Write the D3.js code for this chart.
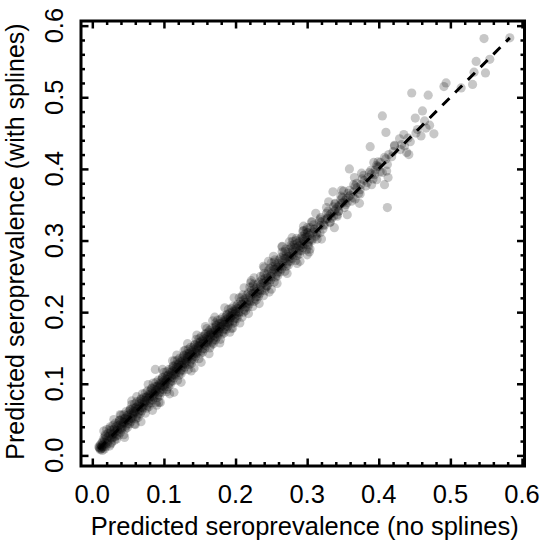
<!DOCTYPE html>
<html>
<head>
<meta charset="utf-8">
<script src="https://cdn.jsdelivr.net/npm/d3@7"></script>
<style>
  body { margin: 0; background: #fff; }
  svg { display: block; }
  text { font-family: "Liberation Sans", Arial, Helvetica, sans-serif; fill: #000; }
</style>
</head>
<body>
<div id="container"></div>
<script>
// predicted seroprevalence, [no splines, with splines], in thousandths
const lowBand = [
  [10,11],[11,14],[12,9],[9,12],[13,13],[11,8],[14,12],[10,10],[12,16],[13,10],
  [15,15],[16,24],[17,9],[14,19],[18,27],[16,12],[19,17],[14,7],[17,22],[15,18],
  [20,24],[21,16],[22,31],[19,12],[23,27],[21,21],[24,13],[20,36],[22,19],[18,29],
  [25,25],[26,35],[27,18],[24,37],[28,30],[26,16],[29,25],[25,31],[27,24],[25,40],
  [30,30],[31,38],[32,26],[29,42],[33,34],[31,21],[34,28],[30,36],[28,29],[32,45],
  [35,35],[36,45],[37,28],[34,41],[38,49],[36,33],[39,37],[34,23],[37,42],[35,38],
  [40,44],[41,36],[42,51],[39,32],[43,47],[41,41],[44,29],[40,56],[42,39],[38,49],
  [45,46],[46,52],[47,41],[44,57],[48,49],[46,37],[49,44],[45,51],[43,45],[47,61],
  [50,50],[51,61],[52,44],[49,56],[53,64],[51,48],[54,52],[49,39],[52,58],[50,53],
  [55,59],[56,51],[57,66],[54,47],[58,62],[56,56],[59,44],[55,71],[57,54],[53,64],
  [60,61],[61,67],[62,55],[59,72],[63,64],[61,51],[64,58],[60,66],[58,59],[62,75],
  [65,65],[66,75],[67,58],[64,70],[68,78],[66,62],[69,67],[64,53],[67,72],[65,68],
  [70,74],[71,66],[72,81],[69,62],[73,77],[71,71],[74,59],[70,86],[72,69],[68,79],
  [75,76],[76,82],[77,70],[74,87],[78,79],[76,66],[79,73],[75,81],[73,74],[77,90],
  [80,81],[81,90],[82,73],[79,85],[83,93],[81,77],[84,82],[79,68],[82,87],[80,83],
  [85,89],[86,81],[87,96],[84,77],[88,92],[86,86],[89,74],[85,101],[87,84],[83,94],
  [90,91],[91,97],[92,85],[89,102],[93,94],[91,81],[94,88],[90,96],[88,89],[92,105],
  [95,96],[96,105],[97,88],[94,100],[98,108],[96,92],[99,97],[94,83],[97,102],[95,98],
  [100,104],[101,96],[102,111],[99,92],[103,107],[101,101],[104,89],[100,116],[102,99],[98,109],
  [105,106],[106,112],[107,100],[104,117],[108,109],[106,96],[109,103],[105,111],[103,104],[107,120]
];

const midBand = [
  [110,111],[111,121],[112,104],[109,116],[113,124],[111,108],[114,113],[109,99],[112,118],[110,114],
  [115,120],[116,112],[117,127],[114,108],[118,123],[116,117],[119,105],[115,132],[117,115],[113,125],
  [120,123],[121,129],[122,116],[119,133],[123,125],[121,112],[124,119],[120,127],[118,120],[122,136],
  [125,126],[126,136],[127,119],[124,131],[128,139],[126,123],[129,128],[124,114],[127,133],[125,129],
  [130,135],[131,127],[132,142],[129,123],[133,138],[131,132],[134,120],[130,147],[132,130],[128,140],
  [135,138],[136,144],[137,131],[134,148],[138,140],[136,127],[139,134],[135,142],[133,135],[137,151],
  [140,141],[141,151],[142,134],[139,146],[143,154],[141,138],[144,143],[139,129],[142,148],[140,144],
  [145,150],[146,142],[147,157],[144,138],[148,153],[146,147],[149,135],[145,162],[147,145],[143,155],
  [150,153],[151,159],[152,146],[149,163],[153,155],[151,142],[154,149],[150,157],[148,150],[152,166],
  [155,156],[156,166],[157,149],[154,161],[158,169],[156,153],[159,158],[154,144],[157,163],[155,159],
  [160,165],[161,157],[162,172],[159,153],[163,168],[161,162],[164,150],[160,177],[162,160],[158,170],
  [165,165],[166,171],[167,158],[164,175],[168,167],[166,154],[169,161],[165,169],[163,162],[167,178],
  [170,168],[171,178],[172,161],[169,173],[173,181],[171,165],[174,170],[169,156],[172,175],[170,171],
  [175,177],[176,169],[177,184],[174,165],[178,180],[176,174],[179,162],[175,189],[177,172],[173,182],
  [180,180],[181,186],[182,173],[179,190],[183,182],[181,169],[184,176],[180,184],[178,177],[182,193],
  [185,183],[186,193],[187,176],[184,188],[188,196],[186,180],[189,185],[184,171],[187,190],[185,186],
  [190,192],[191,184],[192,199],[189,180],[193,195],[191,189],[194,177],[190,204],[192,187],[188,197],
  [195,195],[196,201],[197,188],[194,205],[198,197],[196,184],[199,191],[195,199],[193,192],[197,208],
  [200,198],[201,208],[202,191],[199,203],[203,211],[201,195],[204,200],[199,186],[202,205],[200,201],
  [205,208],[206,200],[207,215],[204,196],[208,211],[206,205],[209,193],[205,220],
  [210,211],[211,217],[212,204],[209,221],[213,213],[211,200],[214,207],[210,224],
  [215,214],[216,224],[217,207],[214,219],[218,227],[216,211],[219,216],[214,202],
  [220,223],[221,215],[222,230],[219,211],[223,226],[221,220],[224,208],[220,235],
  [225,226],[226,232],[227,219],[224,236],[228,228],[226,215],[229,222],[225,239],
  [230,229],[231,239],[232,222],[229,234],[233,242],[231,226],[234,231],[229,217],
  [235,238],[236,230],[237,245],[234,226],[238,241],[236,235],[239,223],[235,250],
  [240,241],[241,247],[242,234],[239,251],[243,243],[241,230],[244,237],[240,254],
  [245,248],[246,258],[247,241],[244,253],[248,261],[246,245],[249,250],[244,236],
  [250,257],[251,249],[252,264],[249,245],[253,260],[251,254],[254,242],[250,269],
  [255,260],[256,266],[257,253],[254,270],[258,262],[256,249],[259,256],[255,273],
  [260,263],[261,273],[262,256],[259,268],[263,276],[261,260],[264,265],[259,251],
  [265,272],[266,264],[267,279],[264,260],[268,275],[266,269],[269,257],[265,284],
  [270,275],[271,281],[272,268],[269,285],[273,277],[271,264],[274,271],[270,288],
  [275,278],[276,288],[277,271],[274,283],[278,291],[276,275],[279,280],[274,266],
  [280,287],[281,279],[282,294],[279,275],[283,290],[281,284],[284,272],[280,299],
  [285,290],[286,296],[287,283],[284,300],[288,292],[286,279],[289,286],[285,303],
  [290,293],[291,303],[292,286],[289,298],[293,306],[291,290],[294,295],[289,281],
  [295,302],[296,294],[297,309],[294,290],[298,305],[296,299],[299,287],[295,314],
  [300,305],[301,311],[302,298],[299,315],[303,307],[301,294],[304,301],[300,318]
];

const upperBand = [
  [305,310],[307,300],[304,318],[309,312],[310,316],[312,306],[309,322],[313,311],
  [315,318],[317,327],[314,309],[318,321],[320,326],[322,316],[319,332],[323,322],
  [325,329],[327,338],[324,321],[328,331],[330,334],[332,325],[329,341],[333,337],
  [335,339],[337,347],[334,331],[338,341],[340,344],[342,336],[339,351],[343,347],
  [345,349],[347,357],[344,341],[348,352],[350,353],[352,346],[349,360],[353,356],
  [355,359],[357,366],[354,350],[358,361],[360,363],[362,355],[359,370],
  [365,368],[367,376],[364,360],[370,374],[372,366],[369,380],
  [375,378],[377,386],[374,371],[380,384],[382,376],[379,391],
  [385,388],[387,395],[384,381],[390,393],[392,386],[389,398],
  [395,398],[397,405],[394,392],[400,403],[402,396],[399,410],
  [410,414],[412,406],[420,424],[418,417],[432,434],[441,443],[452,450],
  [293,302],[307,302],[302,292],[300,311],[318,311],[311,316],[307,326],[318,330],
  [332,326],[328,330],[337,334],[344,341],[327,346],[339,352],[356,353],[367,358],
  [374,365],[347,362],[336,368],[351,369],[365,378],[390,378],[408,378],[397,385],
  [413,388],[376,394],[405,395],[411,397],[398,403],[393,409],[402,409],[408,416],
  [414,420],[442,420],[430,427],[422,432],[436,432],[429,442],[444,438],[459,446],
  [477,449],[435,448],[410,451],[454,455],[471,461],[466,457],[464,467],[451,471],
  [461,481],[469,503],[491,515],[494,520],[515,513],[531,518],[533,535],[549,534],
  [536,550],[555,553],[583,583],[422,433],[439,423],[306,326],[294,313],[265,291],
  [277,293],[239,264],[246,271],[290,271],[304,288],[314,302],[342,334]
];

// lighter scatter around the band edges
const bandEdge = [
  [30,50],[45,25],[55,76],[68,47],[78,99],[84,63],[98,120],[108,86],[118,140],[124,102],
  [133,156],[138,118],[146,168],[152,130],[158,180],[163,142],[171,193],[178,157],[185,206],
  [192,172],[198,220],[206,185],[212,234],[218,198],[226,248],[233,212],[240,262],[247,228],
  [253,278],[258,240],[265,292],[272,254],[279,304],[286,268],[295,320],[303,284],[312,338],
  [320,302],[330,354],[338,318],[348,370],[356,336],[366,388],[373,352],
  [62,82],[90,70],[112,132],[142,122],[168,188],[196,178],[222,244],[250,232],[275,298],[300,280]
];

const outliers = [
  [16,34],[39,57],[60,43],[95,74],[104,92],[88,120],[114,88],[93,74],[128,146],
  [172,185],[221,241],[359,400],[388,431],[405,474],[446,506],[547,582],[412,346]
];

const axisTicks = [0, 0.1, 0.2, 0.3, 0.4, 0.5, 0.6];
const minorTicks = [0.02, 0.04, 0.06, 0.08, 0.12, 0.14, 0.16, 0.18, 0.22, 0.24, 0.26, 0.28,
                    0.32, 0.34, 0.36, 0.38, 0.42, 0.44, 0.46, 0.48, 0.52, 0.54, 0.56, 0.58];
const refLine = [0.009, 0.583];
const xTitle = "Predicted seroprevalence (no splines)";
const yTitle = "Predicted seroprevalence (with splines)";

const width = 545, height = 542;
const plot = {left: 81, right: 524.5, top: 21, bottom: 466};
const fontSize = 25.5;

const points = lowBand.concat(midBand, upperBand, bandEdge, outliers)
    .map(d => ({x: d[0] / 1000, y: d[1] / 1000}));

const xScale = d3.scaleLinear([-0.0158, 0.6035], [plot.left, plot.right]);
const yScale = d3.scaleLinear([-0.0148, 0.6065], [plot.bottom, plot.top]);

const svg = d3.select("#container").append("svg")
    .attr("width", width)
    .attr("height", height);

svg.append("rect")
    .attr("width", width).attr("height", height)
    .attr("fill", "#fff");

svg.append("clipPath").attr("id", "clip")
  .append("rect")
    .attr("x", plot.left).attr("y", plot.top)
    .attr("width", plot.right - plot.left)
    .attr("height", plot.bottom - plot.top);

const body = svg.append("g").attr("clip-path", "url(#clip)");

body.selectAll("circle")
    .data(points)
    .enter().append("circle")
      .attr("cx", d => xScale(d.x))
      .attr("cy", d => yScale(d.y))
      .attr("r", 4.6)
      .attr("fill", "#000")
      .attr("fill-opacity", 0.22);

body.append("line")
    .attr("x1", xScale(refLine[0])).attr("y1", yScale(refLine[0]))
    .attr("x2", xScale(refLine[1])).attr("y2", yScale(refLine[1]))
    .attr("stroke", "#000")
    .attr("stroke-width", 3)
    .attr("stroke-dasharray", "10,8");

// inward ticks on all four sides
function tickAxes(values, len) {
    const sides = [
        [d3.axisBottom(xScale), `translate(0,${plot.bottom})`],
        [d3.axisTop(xScale), `translate(0,${plot.top})`],
        [d3.axisLeft(yScale), `translate(${plot.left},0)`],
        [d3.axisRight(yScale), `translate(${plot.right},0)`]
    ];
    sides.forEach(function (s) {
        const g = svg.append("g")
            .attr("transform", s[1])
            .call(s[0].tickValues(values).tickSize(-len).tickFormat(""));
        g.select(".domain").remove();
        g.selectAll("line").attr("stroke", "#000").attr("stroke-width", 2.5);
    });
}
tickAxes(minorTicks, 4);
tickAxes(axisTicks, 7.5);

svg.append("rect")
    .attr("x", plot.left).attr("y", plot.top)
    .attr("width", plot.right - plot.left)
    .attr("height", plot.bottom - plot.top)
    .attr("fill", "none")
    .attr("stroke", "#000")
    .attr("stroke-width", 3);

// tick labels
svg.append("g").selectAll("text")
    .data(axisTicks)
    .enter().append("text")
      .attr("x", d => xScale(d))
      .attr("y", 503)
      .attr("text-anchor", "middle")
      .style("font-size", fontSize + "px")
      .text(d => d.toFixed(1));

svg.append("g").selectAll("text")
    .data(axisTicks)
    .enter().append("text")
      .attr("transform", d => `translate(63,${yScale(d)}) rotate(-90)`)
      .attr("text-anchor", "middle")
      .style("font-size", fontSize + "px")
      .text(d => d.toFixed(1));

svg.append("text")
    .attr("x", (plot.left + plot.right) / 2 + 2)
    .attr("y", 535)
    .attr("text-anchor", "middle")
    .style("font-size", fontSize + "px")
    .text(xTitle);

svg.append("text")
    .attr("transform", `translate(23.5,${(plot.top + plot.bottom) / 2 - 2}) rotate(-90)`)
    .attr("text-anchor", "middle")
    .style("font-size", "25px")
    .text(yTitle);
</script>
</body>
</html>
